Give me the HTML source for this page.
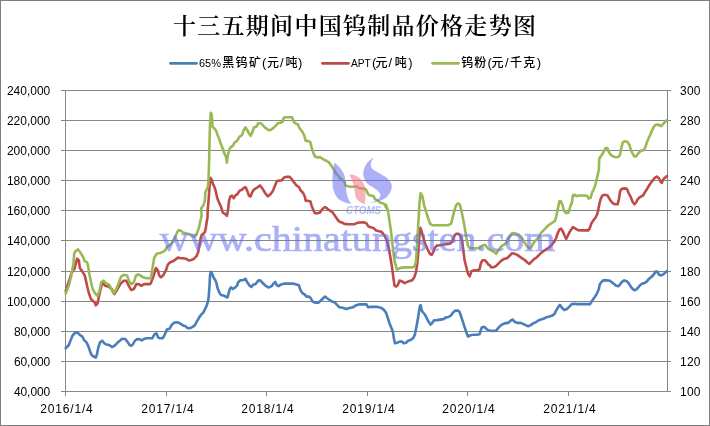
<!DOCTYPE html>
<html><head><meta charset="utf-8"><style>
html,body{margin:0;padding:0;background:#fff;}
body{width:710px;height:426px;overflow:hidden;}
svg{display:block;}
.ax text{font-family:"Liberation Sans",Arial,sans-serif;font-size:12px;fill:#000;}
.lg text{font-family:"Liberation Sans","Noto Sans CJK SC",sans-serif;font-size:12px;fill:#000;}
.lg .ct{font-family:"Noto Sans CJK SC",sans-serif;font-size:12px;font-weight:500;}
.lg .pt{font-family:"Liberation Sans",sans-serif;font-size:13px;}
.lg .lt{font-family:"Liberation Sans",sans-serif;font-size:11px;}
.ttl{font-family:"Noto Serif CJK SC",serif;font-size:23px;font-weight:600;fill:#000;}
.wm{opacity:0.55;}
</style></head><body>
<svg width="710" height="426" viewBox="0 0 710 426">
<rect x="0.5" y="0.5" width="709" height="425" fill="#fff" stroke="#7f7f7f" stroke-width="1"/>
<text class="ttl" x="173" y="33.5" letter-spacing="1.28">十三五期间中国钨制品价格走势图</text>
<g class="lg">
<line x1="170.5" y1="63.3" x2="196.5" y2="63.3" stroke="#4a7ebb" stroke-width="2.8" stroke-linecap="round"/>
<text y="66.5"><tspan class="lt" x="199">65%</tspan><tspan class="ct" x="222.2">黑</tspan><tspan class="ct" x="235.6">钨</tspan><tspan class="ct" x="249">矿</tspan><tspan class="pt" x="261.9">(</tspan><tspan class="ct" x="267">元</tspan><tspan class="pt" x="280">/</tspan><tspan class="ct" x="285.5">吨</tspan><tspan class="pt" x="298">)</tspan></text>
<line x1="322.5" y1="63.3" x2="348.5" y2="63.3" stroke="#be4b48" stroke-width="2.8" stroke-linecap="round"/>
<text y="66.5"><tspan class="lt" x="351" textLength="19.8" lengthAdjust="spacingAndGlyphs">APT</tspan><tspan class="pt" x="372">(</tspan><tspan class="ct" x="375.5">元</tspan><tspan class="pt" x="388.6">/</tspan><tspan class="ct" x="394.8">吨</tspan><tspan class="pt" x="408.3">)</tspan></text>
<line x1="432.5" y1="63.3" x2="458.5" y2="63.3" stroke="#98b954" stroke-width="2.8" stroke-linecap="round"/>
<text y="66.5"><tspan class="ct" x="461.2">钨</tspan><tspan class="ct" x="474.3">粉</tspan><tspan class="pt" x="487.5">(</tspan><tspan class="ct" x="491.6">元</tspan><tspan class="pt" x="505">/</tspan><tspan class="ct" x="510">千</tspan><tspan class="ct" x="523.3">克</tspan><tspan class="pt" x="536.8">)</tspan></text>
</g>
<g stroke="#868686" stroke-width="1" fill="none">
<line x1="61" y1="90.5" x2="671" y2="90.5"/>
<line x1="61" y1="120.5" x2="671" y2="120.5"/>
<line x1="61" y1="150.5" x2="671" y2="150.5"/>
<line x1="61" y1="180.5" x2="671" y2="180.5"/>
<line x1="61" y1="210.5" x2="671" y2="210.5"/>
<line x1="61" y1="240.5" x2="671" y2="240.5"/>
<line x1="61" y1="271.5" x2="671" y2="271.5"/>
<line x1="61" y1="301.5" x2="671" y2="301.5"/>
<line x1="61" y1="331.5" x2="671" y2="331.5"/>
<line x1="61" y1="361.5" x2="671" y2="361.5"/>
<line x1="61" y1="391.5" x2="671" y2="391.5"/>
<line x1="65.5" y1="90" x2="65.5" y2="396"/>
<line x1="667.5" y1="90" x2="667.5" y2="391"/>
<line x1="65.5" y1="391" x2="65.5" y2="396"/>
<line x1="166.5" y1="391" x2="166.5" y2="396"/>
<line x1="266.5" y1="391" x2="266.5" y2="396"/>
<line x1="367.5" y1="391" x2="367.5" y2="396"/>
<line x1="467.5" y1="391" x2="467.5" y2="396"/>
<line x1="568.5" y1="391" x2="568.5" y2="396"/>
</g>
<g class="ax">
<text x="50.3" y="94.5" text-anchor="end" textLength="43.4">240,000</text>
<text x="50.3" y="124.5" text-anchor="end" textLength="43.4">220,000</text>
<text x="50.3" y="154.5" text-anchor="end" textLength="43.4">200,000</text>
<text x="50.3" y="184.5" text-anchor="end" textLength="43.4">180,000</text>
<text x="50.3" y="214.5" text-anchor="end" textLength="43.4">160,000</text>
<text x="50.3" y="244.5" text-anchor="end" textLength="43.4">140,000</text>
<text x="50.3" y="275.5" text-anchor="end" textLength="43.4">120,000</text>
<text x="50.3" y="305.5" text-anchor="end" textLength="43.4">100,000</text>
<text x="50.3" y="335.5" text-anchor="end" textLength="36.4">80,000</text>
<text x="50.3" y="365.5" text-anchor="end" textLength="36.4">60,000</text>
<text x="50.3" y="395.5" text-anchor="end" textLength="36.4">40,000</text>
<text x="680" y="94.5" textLength="20.5">300</text>
<text x="680" y="124.5" textLength="20.5">280</text>
<text x="680" y="154.5" textLength="20.5">260</text>
<text x="680" y="184.5" textLength="20.5">240</text>
<text x="680" y="214.5" textLength="20.5">220</text>
<text x="680" y="244.5" textLength="20.5">200</text>
<text x="680" y="275.5" textLength="20.5">180</text>
<text x="680" y="305.5" textLength="20.5">160</text>
<text x="680" y="335.5" textLength="20.5">140</text>
<text x="680" y="365.5" textLength="20.5">120</text>
<text x="680" y="395.5" textLength="20.5">100</text>
<text x="66.5" y="413" text-anchor="middle" textLength="52.5">2016/1/4</text>
<text x="167.5" y="413" text-anchor="middle" textLength="52.5">2017/1/4</text>
<text x="267.5" y="413" text-anchor="middle" textLength="52.5">2018/1/4</text>
<text x="368.5" y="413" text-anchor="middle" textLength="52.5">2019/1/4</text>
<text x="468.5" y="413" text-anchor="middle" textLength="52.5">2020/1/4</text>
<text x="569.5" y="413" text-anchor="middle" textLength="52.5">2021/1/4</text>
</g>
<g fill="none" stroke-width="2.6" stroke-linejoin="round" stroke-linecap="round">
<polyline stroke="#4a7ebb" points="65.7,348.3 68.8,345.0 70.8,339.9 72.5,335.7 74.7,333.1 77.2,332.6 79.8,334.8 82.3,336.5 84.0,339.9 86.5,342.4 88.2,345.8 89.9,350.9 91.6,355.1 94.1,356.8 95.8,357.6 97.0,354.2 98.3,347.5 100.0,342.4 102.2,340.7 104.2,343.3 106.3,344.4 109.3,345.0 111.9,347.1 114.4,345.8 116.9,343.3 119.5,341.1 122.0,338.7 125.4,339.0 127.9,342.4 129.6,345.0 131.3,345.8 133.0,344.1 135.0,340.7 137.2,339.0 139.8,339.4 141.8,340.4 144.0,339.0 146.5,338.2 149.9,338.2 152.4,338.2 154.6,334.0 156.7,333.6 158.0,337.4 160.0,338.2 162.6,338.2 164.2,335.7 166.9,329.6 169.4,328.8 172.0,324.5 174.5,322.5 177.9,322.3 180.4,323.7 183.0,325.4 185.5,326.2 187.2,327.9 189.7,328.2 192.2,327.1 194.8,325.4 196.5,322.0 199.0,317.8 200.7,315.2 203.2,312.7 204.9,309.3 206.6,305.9 208.0,301.7 208.8,295.8 209.5,285.7 210.0,275.5 210.8,271.8 212.2,273.8 213.4,277.2 215.1,279.8 216.2,282.3 217.6,288.2 219.3,292.4 221.0,295.0 223.5,295.5 225.7,296.6 227.4,297.5 228.6,293.3 229.8,289.0 231.1,287.4 232.8,289.0 235.3,287.4 237.0,285.7 238.2,282.3 240.4,280.2 243.0,280.2 245.5,278.9 247.2,282.3 249.7,285.7 251.4,287.0 253.1,284.8 255.6,284.0 258.2,280.6 260.0,280.2 262.5,282.8 265.1,285.3 268.4,287.5 271.8,286.1 273.5,283.6 275.2,281.9 276.9,285.3 278.6,286.1 281.1,284.4 284.5,283.6 288.7,283.6 293.0,283.6 296.3,284.4 298.9,285.3 300.6,290.4 302.2,292.9 304.8,294.6 306.5,296.6 309.0,296.6 310.7,298.0 312.4,301.4 314.9,302.7 318.3,302.7 320.9,300.5 323.4,298.0 325.1,296.6 326.8,298.0 329.3,299.7 331.8,301.4 334.4,302.2 336.9,304.7 339.4,307.3 342.8,307.8 346.2,309.0 349.6,308.1 353.0,307.3 355.5,305.6 358.9,304.4 362.2,304.4 366.5,304.4 368.2,307.3 370.0,306.9 373.4,306.9 377.6,306.9 381.0,307.8 383.5,309.4 386.1,312.8 387.8,317.9 389.4,323.0 391.1,327.2 392.8,331.4 394.0,339.0 395.0,343.2 397.0,342.7 399.6,341.6 402.1,341.6 403.8,343.2 406.3,342.7 408.0,340.7 410.6,339.9 413.1,338.2 414.8,334.8 416.0,328.9 417.3,322.1 418.7,313.7 419.9,306.1 420.7,305.2 421.6,310.3 422.7,312.0 424.9,314.5 426.6,317.9 428.3,321.3 430.5,324.6 432.2,323.0 433.9,320.4 436.8,320.1 440.1,319.6 443.5,319.1 446.1,317.4 448.6,317.0 451.1,315.4 452.8,312.8 455.4,310.6 457.9,310.6 459.6,312.0 461.3,317.0 463.0,322.1 464.6,327.2 466.3,332.2 468.0,336.5 470.6,335.3 473.1,334.8 476.5,334.8 479.5,334.3 480.7,330.6 481.7,327.6 484.2,326.8 486.8,329.3 489.3,330.6 492.7,331.0 496.1,330.6 498.6,327.6 501.1,325.1 504.5,323.4 507.9,322.9 510.4,320.9 512.5,319.5 514.6,321.7 517.2,322.9 520.6,322.9 523.1,323.9 525.6,325.1 528.2,326.2 530.7,325.1 533.2,323.4 535.8,322.2 538.3,320.5 540.9,319.5 543.4,318.8 545.9,317.5 549.3,316.6 551.8,315.8 554.4,314.1 556.1,310.7 558.1,307.3 560.0,304.9 561.7,307.5 564.2,310.0 566.8,309.1 569.3,306.6 571.8,304.1 574.4,303.8 576.9,304.1 582.0,304.1 587.0,304.1 590.1,304.1 592.1,300.7 594.6,297.3 596.9,293.6 598.9,288.9 599.7,284.6 601.4,282.1 603.1,280.4 606.5,280.4 609.9,280.8 611.5,282.1 613.8,283.8 615.8,285.5 618.3,286.3 620.0,284.6 621.7,282.1 624.2,280.4 626.8,281.3 628.5,283.0 630.1,285.5 631.8,288.0 634.0,290.2 636.1,289.7 637.8,288.0 639.8,285.5 642.0,283.8 644.5,283.0 647.0,281.3 648.7,279.1 651.3,277.0 653.8,274.5 655.5,271.6 657.2,271.6 658.9,274.5 660.6,275.4 662.2,275.0 663.9,273.7 665.6,272.3 666.8,271.1"/>
<polyline stroke="#be4b48" points="65.7,290.9 71.3,273.9 74.7,268.0 77.2,258.7 78.9,260.4 79.8,268.0 82.3,271.4 84.8,275.6 87.3,286.8 89.0,293.5 91.1,299.4 93.3,301.1 95.0,302.8 95.8,305.4 97.5,303.7 98.8,296.9 100.0,291.8 101.7,285.1 103.4,283.4 105.1,285.8 108.5,286.6 111.9,289.1 114.4,294.2 116.9,290.0 120.3,284.1 123.7,280.7 126.2,280.7 128.8,285.8 131.3,290.0 133.8,289.1 136.4,284.1 138.9,284.1 141.4,285.8 144.0,284.1 146.5,284.1 149.9,284.1 150.8,283.3 153.4,276.5 155.9,268.1 157.6,269.8 159.3,275.7 161.0,277.4 163.5,274.9 166.1,269.8 167.8,264.7 170.3,262.2 172.8,261.3 175.3,259.6 177.9,257.6 180.4,258.3 183.0,258.3 186.3,258.8 188.9,260.5 191.4,260.0 193.9,258.8 196.5,256.2 198.2,252.0 199.3,246.1 200.4,239.3 201.6,235.1 203.8,233.4 204.9,231.8 205.8,228.4 206.6,222.4 207.5,217.4 207.8,209.2 208.8,197.3 209.5,187.2 210.5,177.9 211.7,179.6 212.9,183.8 214.2,186.3 215.6,190.6 217.3,198.2 219.3,203.2 221.0,206.6 222.7,212.5 225.2,214.2 226.9,215.9 228.1,209.2 229.1,200.7 230.3,196.5 232.0,195.6 233.7,198.2 235.3,195.6 237.6,193.9 239.6,190.6 242.1,189.7 243.8,188.0 245.5,187.2 247.2,190.6 248.9,195.6 250.6,196.5 252.2,192.2 253.9,189.7 256.5,188.0 259.0,186.3 260.0,185.3 262.5,188.7 265.1,193.0 267.6,196.3 270.1,194.7 272.7,191.3 275.2,185.3 276.9,181.1 279.4,180.6 282.0,180.3 283.7,177.8 286.2,176.9 289.6,176.9 291.3,178.6 293.8,182.0 296.3,185.3 298.9,187.0 300.6,190.4 303.1,193.0 304.8,196.3 305.6,200.6 308.2,200.9 310.4,201.4 311.6,205.6 313.2,209.9 314.9,213.2 317.5,213.2 320.0,212.4 321.7,209.9 324.2,207.3 325.9,207.3 327.6,209.0 330.1,210.7 332.7,212.4 334.4,214.9 336.1,217.5 337.8,220.0 339.4,221.7 342.0,222.5 344.5,223.9 347.9,224.2 351.3,224.2 354.6,224.2 357.2,222.9 359.7,222.5 363.9,222.2 366.5,223.4 368.2,226.2 370.0,227.0 373.4,227.9 375.9,230.4 379.3,231.3 381.8,232.1 384.4,235.5 386.9,240.6 388.6,247.3 390.3,256.9 392.0,267.0 393.3,277.2 394.5,285.6 396.2,286.5 397.9,284.8 399.6,280.6 402.1,281.4 404.6,283.1 407.2,281.9 409.7,280.9 412.2,280.2 414.3,277.2 416.0,272.1 417.3,263.7 418.2,253.5 419.4,233.8 420.4,227.9 421.6,231.3 423.2,237.2 424.9,243.1 427.5,249.0 430.0,254.1 431.7,254.9 433.4,251.6 435.1,247.3 436.8,245.6 439.3,245.3 442.7,244.8 445.2,244.3 448.6,243.9 451.1,243.1 452.8,240.6 454.5,235.5 456.2,233.8 458.7,233.8 460.4,235.5 462.1,240.6 464.6,260.3 466.3,267.0 468.0,273.8 469.7,276.3 471.4,271.3 473.9,270.4 477.3,270.1 479.5,269.6 480.7,263.7 482.4,260.3 484.9,260.3 486.6,262.0 488.3,264.5 490.0,265.4 491.0,267.3 493.5,267.3 496.1,265.9 498.6,263.4 501.1,260.9 503.7,259.1 507.0,258.3 509.6,255.8 512.1,253.2 514.6,253.8 517.2,254.9 519.7,256.6 522.2,258.3 524.8,260.0 527.3,262.5 529.4,263.9 531.5,261.7 534.1,259.1 536.6,257.5 539.1,254.9 541.7,252.4 544.2,250.7 546.8,249.0 549.3,247.3 551.8,244.8 554.4,241.4 556.1,238.0 557.8,233.0 559.4,229.6 561.1,228.7 562.8,231.3 564.5,235.5 566.2,238.9 567.9,235.5 569.6,232.1 571.3,229.6 573.0,227.0 575.5,228.7 578.0,230.1 581.4,230.4 584.8,230.4 588.2,230.4 589.7,228.4 591.4,223.4 593.6,220.0 595.6,217.5 597.3,214.1 598.2,209.9 599.4,203.9 600.7,198.9 602.4,195.5 604.9,194.7 607.5,195.5 610.0,199.7 612.5,203.1 615.1,204.3 617.6,204.3 619.0,198.9 620.1,191.3 621.8,188.7 624.4,188.4 626.9,188.7 628.6,193.0 630.8,197.2 632.8,202.2 634.5,204.3 636.2,202.2 637.9,198.9 640.4,196.8 643.0,195.5 645.0,192.1 647.2,188.7 649.7,184.5 652.2,181.1 654.8,177.8 656.8,176.6 659.0,178.2 660.7,182.0 661.9,182.8 663.2,179.4 664.9,177.8 667.0,176.1"/>
<polyline stroke="#98b954" points="65.7,293.4 68.8,285.8 71.3,275.6 73.5,263.8 74.2,253.7 75.5,251.1 78.1,249.4 80.6,252.8 83.1,257.0 84.8,261.3 87.0,262.1 88.2,266.3 89.0,272.2 90.4,279.0 92.4,288.3 95.0,293.4 97.5,295.9 99.5,290.9 101.2,282.4 103.4,280.7 105.9,283.2 109.3,284.9 111.0,288.3 113.5,293.4 115.8,290.0 118.6,283.2 121.2,276.5 123.7,274.8 127.1,275.6 129.3,281.6 131.3,284.1 133.8,282.4 136.0,275.6 138.1,274.3 140.6,275.6 143.1,277.3 146.5,278.2 149.9,278.2 150.8,278.2 152.5,268.1 154.2,257.9 156.8,253.7 160.1,252.9 162.7,252.0 165.2,250.3 166.9,247.0 169.4,245.3 172.0,242.7 174.5,239.3 177.0,232.6 178.7,230.1 181.3,230.9 183.0,232.6 186.3,233.4 189.7,234.3 192.2,236.0 194.8,236.8 196.5,234.3 198.2,230.1 199.0,227.5 200.4,220.8 201.6,215.7 201.2,208.3 203.2,205.8 204.9,200.7 205.4,192.2 207.5,188.0 208.3,183.8 208.8,172.0 209.2,158.4 209.5,141.8 210.0,124.9 210.8,112.7 211.7,114.7 212.5,126.6 214.2,128.2 216.2,130.8 217.6,135.0 219.3,139.2 221.0,144.3 222.7,148.5 224.4,153.6 226.1,157.0 226.9,162.7 227.8,155.3 229.4,149.4 231.1,146.8 232.8,146.0 234.5,142.6 237.0,140.9 239.6,136.7 242.1,135.0 243.8,129.9 245.5,127.4 247.2,129.9 248.9,133.3 250.6,135.9 252.2,132.5 253.9,127.4 256.5,126.6 258.2,123.2 260.7,123.2 263.2,125.7 265.8,128.2 268.3,129.9 270.0,130.3 271.0,129.6 273.5,127.9 276.1,125.3 277.8,123.3 280.3,122.8 282.3,122.0 283.7,117.8 286.2,117.2 288.7,117.2 292.1,117.2 293.8,122.0 295.5,123.3 298.0,124.5 299.7,128.7 302.2,131.3 304.3,135.5 305.6,140.6 308.2,141.1 310.4,142.2 311.6,147.3 313.2,152.4 314.9,156.6 317.5,157.5 320.0,157.1 323.4,159.3 326.8,161.0 329.3,162.7 331.0,165.2 332.7,167.8 334.4,170.3 336.1,173.7 338.6,176.2 340.3,178.7 342.8,180.4 344.5,181.3 345.4,185.5 347.9,186.3 350.4,186.8 353.8,186.8 356.3,186.3 358.9,188.0 362.2,188.5 365.3,188.9 366.5,190.6 368.2,194.3 369.9,195.3 371.6,195.6 373.8,196.5 374.9,199.0 377.5,200.4 380.0,202.4 382.5,203.2 384.6,204.1 385.9,207.5 386.1,205.1 387.8,210.1 389.4,220.3 391.1,232.1 392.8,247.3 394.5,260.9 397.0,269.6 400.4,267.9 405.5,267.4 410.6,267.4 414.3,267.0 416.0,262.0 417.7,233.8 418.7,216.9 419.4,205.1 419.7,200.7 420.6,193.1 422.2,195.6 424.1,205.1 426.6,213.5 428.3,218.6 430.0,223.7 432.5,225.3 437.6,225.3 442.7,225.3 447.8,225.3 451.1,223.7 452.8,216.9 454.5,210.1 456.2,205.1 457.9,203.4 459.6,204.2 461.3,210.1 463.0,218.6 464.6,227.0 466.3,237.2 468.0,245.6 469.7,248.2 473.1,248.2 477.3,248.2 479.9,248.2 480.0,246.5 482.5,245.6 485.1,244.8 487.6,248.2 490.1,249.9 493.5,251.6 496.1,253.8 498.6,249.9 501.1,246.5 503.7,244.8 506.2,243.1 508.7,238.0 511.3,233.8 513.8,233.0 516.3,233.8 518.9,234.7 521.4,237.2 523.9,241.4 526.5,245.6 529.0,248.2 530.7,248.2 532.4,244.8 534.1,242.2 536.6,239.7 539.1,237.2 540.9,233.0 542.5,231.3 545.1,228.7 546.8,227.0 548.5,225.3 550.0,224.2 552.5,222.5 555.1,220.8 556.8,214.1 558.5,205.6 559.3,201.4 561.0,201.4 562.7,205.6 563.9,210.7 566.1,213.2 568.6,212.4 570.3,206.5 572.0,202.2 572.8,195.5 574.5,194.7 576.2,196.3 578.7,195.5 582.1,195.5 585.5,195.5 587.5,196.3 588.5,198.5 590.6,198.0 591.9,193.0 593.6,189.6 595.3,185.3 597.5,175.9 598.9,169.2 599.2,159.0 600.6,156.5 602.2,154.3 604.3,150.6 605.6,148.0 607.3,148.0 609.0,152.2 610.7,154.8 613.2,156.5 615.8,157.3 618.3,157.0 620.0,154.8 621.7,146.3 622.9,142.1 625.1,141.3 627.6,142.1 629.3,144.7 630.6,148.9 632.3,153.1 634.4,156.5 636.1,156.5 637.8,153.9 639.4,152.2 641.1,150.6 643.7,150.2 645.4,147.2 647.0,142.1 648.7,137.9 650.4,134.5 652.1,130.3 653.8,126.9 655.5,124.9 657.7,124.4 659.7,125.5 661.1,126.1 662.8,124.4 664.8,122.2 666.8,120.1"/>
</g>
<g class="wm">
<path fill="#6c6ff1" d="M334.5,162.8 C337.5,164.5 341.5,169 343.8,173.7 C345.4,177 346,185 346.1,189.2 C346.6,194 348,200 351.5,203.9 C348,203.5 345,202.8 343,201.6 C339.5,200 337.5,198.5 336.8,196.9 C334,193 333,190 332.6,185 C332.2,178 333,168 334.5,162.8 Z"/>
<path fill="#f47385" d="M349.2,174.5 C354,174 358,176 361.6,179.9 C364,183 365,187 365.2,190 C365.7,194 365.5,199 364.7,203.9 C362.5,203.5 359,202 356.2,198.5 C355,195 354.8,192 354.6,190.7 C354,186 352.5,180 349.2,174.5 Z"/>
<path fill="#6c6ff1" d="M374,157.4 C371,159 368,161 365.8,165 C363.5,169 363,172 363.4,175.5 C364,180 367,184 370.9,186.1 C374,188 378,190 380.2,193.8 C381,196 379.5,199.5 374,201.6 C372,202.3 370,203 368.6,203.1 C372,203 375,202.5 377.1,201.6 C380,201 384,199.5 386.8,197 C390,194 391.8,190 391.8,186.1 C391.5,182 389,179.5 385,176.5 C381,174 376,171.5 372.5,169 C370.5,167 370,164 371.7,161 C372.5,159.5 373.3,158.3 374,157.4 Z"/>
<text x="363.5" y="213.5" text-anchor="middle" font-family="Liberation Sans,sans-serif" font-size="10.5" font-weight="bold" font-style="italic" fill="#7785ed" textLength="35" lengthAdjust="spacingAndGlyphs">CTOMS</text>
<text transform="translate(159.8 250.5) scale(1.113 1)" x="0" y="0" font-family="Liberation Serif,serif" font-size="36" fill="#646fed" stroke="#646fed" stroke-width="0.7">www.chinatungsten.com</text>
</g>
</svg>
</body></html>
